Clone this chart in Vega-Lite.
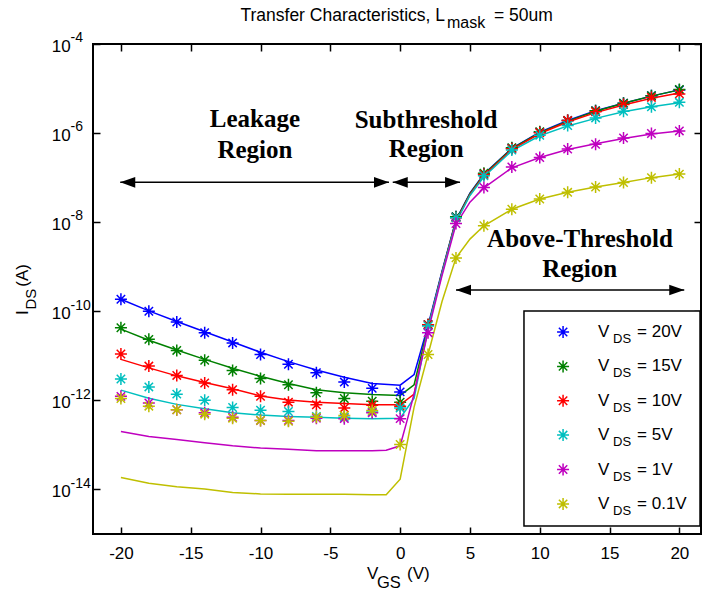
{
  "$schema": "https://vega.github.io/schema/vega-lite/v6.json",
  "width": 608,
  "height": 490,
  "autosize": {"type": "none"},
  "padding": {"left": 93, "top": 44, "right": 1, "bottom": 59},
  "config": {"view": {"stroke": "black", "strokeWidth": 2}, "font": "Liberation Sans"},
  "resolve": {"axis": {"x": "independent", "y": "independent"}},
  "datasets": {
    "meas": [
      {"vds":"20V","vgs":-20,"ids":1.86e-10},{"vds":"20V","vgs":-18,"ids":1.00e-10},{"vds":"20V","vgs":-16,"ids":5.75e-11},{"vds":"20V","vgs":-14,"ids":3.31e-11},{"vds":"20V","vgs":-12,"ids":1.95e-11},{"vds":"20V","vgs":-10,"ids":1.07e-11},{"vds":"20V","vgs":-8,"ids":6.46e-12},{"vds":"20V","vgs":-6,"ids":4.17e-12},{"vds":"20V","vgs":-4,"ids":2.57e-12},{"vds":"20V","vgs":-2,"ids":1.86e-12},{"vds":"20V","vgs":0,"ids":1.55e-12},{"vds":"20V","vgs":2,"ids":5.01e-11},{"vds":"20V","vgs":4,"ids":1.32e-8},{"vds":"20V","vgs":6,"ids":1.20e-7},{"vds":"20V","vgs":8,"ids":4.57e-7},{"vds":"20V","vgs":10,"ids":1.05e-6},{"vds":"20V","vgs":12,"ids":1.91e-6},{"vds":"20V","vgs":14,"ids":3.16e-6},{"vds":"20V","vgs":16,"ids":4.68e-6},{"vds":"20V","vgs":18,"ids":6.92e-6},{"vds":"20V","vgs":20,"ids":9.33e-6},
      {"vds":"15V","vgs":-20,"ids":4.27e-11},{"vds":"15V","vgs":-18,"ids":2.34e-11},{"vds":"15V","vgs":-16,"ids":1.32e-11},{"vds":"15V","vgs":-14,"ids":7.94e-12},{"vds":"15V","vgs":-12,"ids":4.68e-12},{"vds":"15V","vgs":-10,"ids":3.09e-12},{"vds":"15V","vgs":-8,"ids":2.24e-12},{"vds":"15V","vgs":-6,"ids":1.48e-12},{"vds":"15V","vgs":-4,"ids":1.10e-12},{"vds":"15V","vgs":-2,"ids":9.55e-13},{"vds":"15V","vgs":0,"ids":9.12e-13},{"vds":"15V","vgs":2,"ids":5.01e-11},{"vds":"15V","vgs":4,"ids":1.32e-8},{"vds":"15V","vgs":6,"ids":1.26e-7},{"vds":"15V","vgs":8,"ids":4.68e-7},{"vds":"15V","vgs":10,"ids":1.07e-6},{"vds":"15V","vgs":12,"ids":1.91e-6},{"vds":"15V","vgs":14,"ids":3.16e-6},{"vds":"15V","vgs":16,"ids":4.68e-6},{"vds":"15V","vgs":18,"ids":6.92e-6},{"vds":"15V","vgs":20,"ids":9.55e-6},
      {"vds":"10V","vgs":-20,"ids":1.10e-11},{"vds":"10V","vgs":-18,"ids":5.89e-12},{"vds":"10V","vgs":-16,"ids":3.63e-12},{"vds":"10V","vgs":-14,"ids":2.45e-12},{"vds":"10V","vgs":-12,"ids":1.74e-12},{"vds":"10V","vgs":-10,"ids":1.23e-12},{"vds":"10V","vgs":-8,"ids":9.12e-13},{"vds":"10V","vgs":-6,"ids":7.94e-13},{"vds":"10V","vgs":-4,"ids":6.76e-13},{"vds":"10V","vgs":-2,"ids":7.76e-13},{"vds":"10V","vgs":0,"ids":7.41e-13},{"vds":"10V","vgs":2,"ids":5.01e-11},{"vds":"10V","vgs":4,"ids":1.26e-8},{"vds":"10V","vgs":6,"ids":1.17e-7},{"vds":"10V","vgs":8,"ids":4.47e-7},{"vds":"10V","vgs":10,"ids":1.02e-6},{"vds":"10V","vgs":12,"ids":1.91e-6},{"vds":"10V","vgs":14,"ids":3.02e-6},{"vds":"10V","vgs":16,"ids":4.37e-6},{"vds":"10V","vgs":18,"ids":6.31e-6},{"vds":"10V","vgs":20,"ids":7.59e-6},
      {"vds":"5V","vgs":-20,"ids":3.02e-12},{"vds":"5V","vgs":-18,"ids":2.00e-12},{"vds":"5V","vgs":-16,"ids":1.38e-12},{"vds":"5V","vgs":-14,"ids":1.00e-12},{"vds":"5V","vgs":-12,"ids":6.92e-13},{"vds":"5V","vgs":-10,"ids":6.03e-13},{"vds":"5V","vgs":-8,"ids":5.62e-13},{"vds":"5V","vgs":-6,"ids":4.37e-13},{"vds":"5V","vgs":-4,"ids":4.17e-13},{"vds":"5V","vgs":-2,"ids":5.50e-13},{"vds":"5V","vgs":0,"ids":6.76e-13},{"vds":"5V","vgs":2,"ids":4.68e-11},{"vds":"5V","vgs":4,"ids":1.26e-8},{"vds":"5V","vgs":6,"ids":1.10e-7},{"vds":"5V","vgs":8,"ids":4.17e-7},{"vds":"5V","vgs":10,"ids":8.91e-7},{"vds":"5V","vgs":12,"ids":1.48e-6},{"vds":"5V","vgs":14,"ids":2.19e-6},{"vds":"5V","vgs":16,"ids":3.09e-6},{"vds":"5V","vgs":18,"ids":3.89e-6},{"vds":"5V","vgs":20,"ids":4.90e-6},
      {"vds":"1V","vgs":-20,"ids":1.23e-12},{"vds":"1V","vgs":-18,"ids":8.71e-13},{"vds":"1V","vgs":-16,"ids":6.17e-13},{"vds":"1V","vgs":-14,"ids":5.25e-13},{"vds":"1V","vgs":-12,"ids":4.17e-13},{"vds":"1V","vgs":-10,"ids":3.55e-13},{"vds":"1V","vgs":-8,"ids":3.55e-13},{"vds":"1V","vgs":-6,"ids":3.98e-13},{"vds":"1V","vgs":-4,"ids":3.89e-13},{"vds":"1V","vgs":-2,"ids":5.25e-13},{"vds":"1V","vgs":0,"ids":3.89e-13},{"vds":"1V","vgs":2,"ids":3.31e-11},{"vds":"1V","vgs":4,"ids":9.33e-9},{"vds":"1V","vgs":6,"ids":6.03e-8},{"vds":"1V","vgs":8,"ids":1.74e-7},{"vds":"1V","vgs":10,"ids":2.82e-7},{"vds":"1V","vgs":12,"ids":4.37e-7},{"vds":"1V","vgs":14,"ids":5.62e-7},{"vds":"1V","vgs":16,"ids":7.76e-7},{"vds":"1V","vgs":18,"ids":9.77e-7},{"vds":"1V","vgs":20,"ids":1.12e-6},
      {"vds":"0.1V","vgs":-20,"ids":1.10e-12},{"vds":"0.1V","vgs":-18,"ids":7.41e-13},{"vds":"0.1V","vgs":-16,"ids":6.17e-13},{"vds":"0.1V","vgs":-14,"ids":4.90e-13},{"vds":"0.1V","vgs":-12,"ids":3.98e-13},{"vds":"0.1V","vgs":-10,"ids":3.55e-13},{"vds":"0.1V","vgs":-8,"ids":3.39e-13},{"vds":"0.1V","vgs":-6,"ids":4.17e-13},{"vds":"0.1V","vgs":-4,"ids":4.57e-13},{"vds":"0.1V","vgs":-2,"ids":5.89e-13},{"vds":"0.1V","vgs":0,"ids":1.02e-13},{"vds":"0.1V","vgs":2,"ids":1.07e-11},{"vds":"0.1V","vgs":4,"ids":1.58e-9},{"vds":"0.1V","vgs":6,"ids":8.32e-9},{"vds":"0.1V","vgs":8,"ids":1.95e-8},{"vds":"0.1V","vgs":10,"ids":3.31e-8},{"vds":"0.1V","vgs":12,"ids":4.68e-8},{"vds":"0.1V","vgs":14,"ids":6.17e-8},{"vds":"0.1V","vgs":16,"ids":7.76e-8},{"vds":"0.1V","vgs":18,"ids":1.00e-7},{"vds":"0.1V","vgs":20,"ids":1.20e-7}
    ],
    "model": [
      {"vds":"20V","vgs":-20,"ids":1.86e-10},{"vds":"20V","vgs":-18,"ids":1.02e-10},{"vds":"20V","vgs":-16,"ids":5.89e-11},{"vds":"20V","vgs":-14,"ids":3.47e-11},{"vds":"20V","vgs":-12,"ids":2.04e-11},{"vds":"20V","vgs":-10,"ids":1.20e-11},{"vds":"20V","vgs":-8,"ids":7.41e-12},{"vds":"20V","vgs":-6,"ids":4.79e-12},{"vds":"20V","vgs":-4,"ids":3.31e-12},{"vds":"20V","vgs":-2,"ids":2.40e-12},{"vds":"20V","vgs":0,"ids":2.19e-12},{"vds":"20V","vgs":1,"ids":3.80e-12},{"vds":"20V","vgs":2,"ids":4.79e-11},{"vds":"20V","vgs":3,"ids":7.94e-10},{"vds":"20V","vgs":4,"ids":1.12e-8},{"vds":"20V","vgs":5,"ids":4.47e-8},{"vds":"20V","vgs":6,"ids":1.20e-7},{"vds":"20V","vgs":8,"ids":4.57e-7},{"vds":"20V","vgs":10,"ids":1.05e-6},{"vds":"20V","vgs":12,"ids":1.91e-6},{"vds":"20V","vgs":14,"ids":3.16e-6},{"vds":"20V","vgs":16,"ids":4.68e-6},{"vds":"20V","vgs":18,"ids":6.76e-6},{"vds":"20V","vgs":20,"ids":9.33e-6},
      {"vds":"15V","vgs":-20,"ids":3.98e-11},{"vds":"15V","vgs":-18,"ids":2.24e-11},{"vds":"15V","vgs":-16,"ids":1.35e-11},{"vds":"15V","vgs":-14,"ids":8.32e-12},{"vds":"15V","vgs":-12,"ids":5.25e-12},{"vds":"15V","vgs":-10,"ids":3.47e-12},{"vds":"15V","vgs":-8,"ids":2.40e-12},{"vds":"15V","vgs":-6,"ids":1.74e-12},{"vds":"15V","vgs":-4,"ids":1.48e-12},{"vds":"15V","vgs":-2,"ids":1.35e-12},{"vds":"15V","vgs":0,"ids":1.29e-12},{"vds":"15V","vgs":1,"ids":2.24e-12},{"vds":"15V","vgs":2,"ids":4.37e-11},{"vds":"15V","vgs":3,"ids":7.59e-10},{"vds":"15V","vgs":4,"ids":1.10e-8},{"vds":"15V","vgs":5,"ids":4.37e-8},{"vds":"15V","vgs":6,"ids":1.17e-7},{"vds":"15V","vgs":8,"ids":4.47e-7},{"vds":"15V","vgs":10,"ids":1.02e-6},{"vds":"15V","vgs":12,"ids":1.86e-6},{"vds":"15V","vgs":14,"ids":3.09e-6},{"vds":"15V","vgs":16,"ids":4.68e-6},{"vds":"15V","vgs":18,"ids":6.76e-6},{"vds":"15V","vgs":20,"ids":9.33e-6},
      {"vds":"10V","vgs":-20,"ids":8.32e-12},{"vds":"10V","vgs":-18,"ids":5.37e-12},{"vds":"10V","vgs":-16,"ids":3.55e-12},{"vds":"10V","vgs":-14,"ids":2.51e-12},{"vds":"10V","vgs":-12,"ids":1.82e-12},{"vds":"10V","vgs":-10,"ids":1.26e-12},{"vds":"10V","vgs":-8,"ids":1.02e-12},{"vds":"10V","vgs":-6,"ids":9.12e-13},{"vds":"10V","vgs":-4,"ids":8.51e-13},{"vds":"10V","vgs":-2,"ids":7.94e-13},{"vds":"10V","vgs":0,"ids":7.94e-13},{"vds":"10V","vgs":1,"ids":1.38e-12},{"vds":"10V","vgs":2,"ids":4.17e-11},{"vds":"10V","vgs":3,"ids":7.24e-10},{"vds":"10V","vgs":4,"ids":1.05e-8},{"vds":"10V","vgs":5,"ids":4.17e-8},{"vds":"10V","vgs":6,"ids":1.12e-7},{"vds":"10V","vgs":8,"ids":4.27e-7},{"vds":"10V","vgs":10,"ids":9.77e-7},{"vds":"10V","vgs":12,"ids":1.78e-6},{"vds":"10V","vgs":14,"ids":2.88e-6},{"vds":"10V","vgs":16,"ids":4.27e-6},{"vds":"10V","vgs":18,"ids":6.03e-6},{"vds":"10V","vgs":20,"ids":7.94e-6},
      {"vds":"5V","vgs":-20,"ids":1.70e-12},{"vds":"5V","vgs":-18,"ids":1.12e-12},{"vds":"5V","vgs":-16,"ids":8.13e-13},{"vds":"5V","vgs":-14,"ids":6.46e-13},{"vds":"5V","vgs":-12,"ids":5.25e-13},{"vds":"5V","vgs":-10,"ids":4.68e-13},{"vds":"5V","vgs":-8,"ids":4.37e-13},{"vds":"5V","vgs":-6,"ids":4.17e-13},{"vds":"5V","vgs":-4,"ids":3.98e-13},{"vds":"5V","vgs":-2,"ids":3.89e-13},{"vds":"5V","vgs":0,"ids":3.98e-13},{"vds":"5V","vgs":1,"ids":1.12e-12},{"vds":"5V","vgs":2,"ids":4.17e-11},{"vds":"5V","vgs":3,"ids":7.08e-10},{"vds":"5V","vgs":4,"ids":1.00e-8},{"vds":"5V","vgs":5,"ids":3.98e-8},{"vds":"5V","vgs":6,"ids":1.05e-7},{"vds":"5V","vgs":8,"ids":3.98e-7},{"vds":"5V","vgs":10,"ids":8.71e-7},{"vds":"5V","vgs":12,"ids":1.45e-6},{"vds":"5V","vgs":14,"ids":2.14e-6},{"vds":"5V","vgs":16,"ids":3.02e-6},{"vds":"5V","vgs":18,"ids":3.89e-6},{"vds":"5V","vgs":20,"ids":4.79e-6},
      {"vds":"1V","vgs":-20,"ids":2.00e-13},{"vds":"1V","vgs":-18,"ids":1.55e-13},{"vds":"1V","vgs":-16,"ids":1.32e-13},{"vds":"1V","vgs":-14,"ids":1.12e-13},{"vds":"1V","vgs":-12,"ids":9.55e-14},{"vds":"1V","vgs":-10,"ids":8.51e-14},{"vds":"1V","vgs":-8,"ids":7.94e-14},{"vds":"1V","vgs":-6,"ids":7.41e-14},{"vds":"1V","vgs":-4,"ids":7.41e-14},{"vds":"1V","vgs":-2,"ids":7.41e-14},{"vds":"1V","vgs":-1,"ids":7.59e-14},{"vds":"1V","vgs":0,"ids":9.55e-14},{"vds":"1V","vgs":0.5,"ids":3.55e-13},{"vds":"1V","vgs":1,"ids":1.41e-12},{"vds":"1V","vgs":2,"ids":3.55e-11},{"vds":"1V","vgs":3,"ids":6.31e-10},{"vds":"1V","vgs":4,"ids":8.91e-9},{"vds":"1V","vgs":5,"ids":2.82e-8},{"vds":"1V","vgs":6,"ids":5.89e-8},{"vds":"1V","vgs":8,"ids":1.66e-7},{"vds":"1V","vgs":10,"ids":2.82e-7},{"vds":"1V","vgs":12,"ids":4.27e-7},{"vds":"1V","vgs":14,"ids":5.75e-7},{"vds":"1V","vgs":16,"ids":7.59e-7},{"vds":"1V","vgs":18,"ids":9.55e-7},{"vds":"1V","vgs":20,"ids":1.12e-6},
      {"vds":"0.1V","vgs":-20,"ids":1.86e-14},{"vds":"0.1V","vgs":-18,"ids":1.38e-14},{"vds":"0.1V","vgs":-16,"ids":1.15e-14},{"vds":"0.1V","vgs":-14,"ids":1.02e-14},{"vds":"0.1V","vgs":-12,"ids":8.51e-15},{"vds":"0.1V","vgs":-10,"ids":7.94e-15},{"vds":"0.1V","vgs":-8,"ids":7.76e-15},{"vds":"0.1V","vgs":-6,"ids":7.76e-15},{"vds":"0.1V","vgs":-4,"ids":7.76e-15},{"vds":"0.1V","vgs":-2,"ids":7.59e-15},{"vds":"0.1V","vgs":-1,"ids":7.59e-15},{"vds":"0.1V","vgs":0,"ids":1.70e-14},{"vds":"0.1V","vgs":1,"ids":7.08e-13},{"vds":"0.1V","vgs":2,"ids":1.07e-11},{"vds":"0.1V","vgs":3,"ids":1.66e-10},{"vds":"0.1V","vgs":4,"ids":1.58e-9},{"vds":"0.1V","vgs":5,"ids":4.17e-9},{"vds":"0.1V","vgs":6,"ids":8.32e-9},{"vds":"0.1V","vgs":8,"ids":1.95e-8},{"vds":"0.1V","vgs":10,"ids":3.31e-8},{"vds":"0.1V","vgs":12,"ids":4.68e-8},{"vds":"0.1V","vgs":14,"ids":6.17e-8},{"vds":"0.1V","vgs":16,"ids":7.76e-8},{"vds":"0.1V","vgs":18,"ids":1.00e-7},{"vds":"0.1V","vgs":20,"ids":1.20e-7}
    ],
    "legend": [
      {"vds":"20V","ly":3.43e-11,"label":"= 20V"},
      {"vds":"15V","ly":5.79e-12,"label":"= 15V"},
      {"vds":"10V","ly":9.79e-13,"label":"= 10V"},
      {"vds":"5V","ly":1.66e-13,"label":"= 5V"},
      {"vds":"1V","ly":2.80e-14,"label":"= 1V"},
      {"vds":"0.1V","ly":4.73e-15,"label":"= 0.1V"}
    ],
    "legendbox": [{"x1":8.87,"x2":21.48,"y1":1.01e-10,"y2":1.51e-15}],
    "arrows": [
      {"x1":-20.05,"x2":-0.8,"y":7.85e-8},
      {"x1":-0.53,"x2":4.29,"y":7.85e-8},
      {"x1":4.0,"x2":20.35,"y":3.0e-10}
    ],
    "notes": [
      {"x":-10.4,"y":1.35e-6,"text":"Leakage"},
      {"x":-10.4,"y":2.72e-7,"text":"Region"},
      {"x":1.85,"y":1.32e-6,"text":"Subthreshold"},
      {"x":1.87,"y":2.95e-7,"text":"Region"},
      {"x":12.88,"y":2.81e-9,"text":"Above-Threshold"},
      {"x":12.86,"y":5.79e-10,"text":"Region"}
    ],
    "ticks": [
      {"v":1e-4,"e":"-4"},{"v":1e-6,"e":"-6"},{"v":1e-8,"e":"-8"},
      {"v":1e-10,"e":"-10"},{"v":1e-12,"e":"-12"},{"v":1e-14,"e":"-14"}
    ],
    "captions": [
      {"id":"title","text":"Transfer Characteristics, L"},
      {"id":"titleSub","text":"mask"},
      {"id":"titleEnd","text":"= 50um"},
      {"id":"xt","text":"V"},
      {"id":"xtSub","text":"GS"},
      {"id":"xtEnd","text":"(V)"},
      {"id":"yt","text":"I"},
      {"id":"ytSub","text":"DS"},
      {"id":"ytEnd","text":"(A)"}
    ]
  },
  "layer": [
    {
      "data": {"name": "model"},
      "mark": {"type": "line", "strokeWidth": 1.5},
      "encoding": {
        "x": {"field": "vgs", "type": "quantitative",
              "scale": {"domain": [-22, 21.55], "nice": false, "zero": false},
              "axis": {"orient": "bottom", "values": [-20,-15,-10,-5,0,5,10,15,20], "domain": false, "grid": false,
                       "offset": -7, "tickSize": 7, "tickColor": "black", "tickWidth": 1.5,
                       "labelFont": "Liberation Sans", "labelFontSize": 17, "labelColor": "black",
                       "labelPadding": 11, "labelExpr": "'' + datum.value", "title": null}},
        "y": {"field": "ids", "type": "quantitative",
              "scale": {"type": "log", "domain": [1e-15, 1e-4], "nice": false},
              "axis": {"orient": "left", "values": [1e-14,1e-12,1e-10,1e-8,1e-6,1e-4], "domain": false, "grid": false,
                       "offset": -7, "tickSize": 7, "tickColor": "black", "tickWidth": 1.5, "labels": false, "title": null}},
        "color": {"field": "vds", "type": "nominal", "legend": null,
                  "scale": {"domain": ["20V","15V","10V","5V","1V","0.1V"],
                            "range": ["#0000FF","#008000","#FF0000","#00BFBF","#BF00BF","#BFBF00"]}}
      }
    },
    {
      "data": {"name": "meas"},
      "mark": {"type": "point", "shape": "M-1,0L1,0M0,-1L0,1M-0.7,-0.7L0.7,0.7M-0.7,0.7L0.7,-0.7",
               "filled": false, "size": 144, "strokeWidth": 1.5, "opacity": 1},
      "encoding": {
        "x": {"field": "vgs", "type": "quantitative",
              "axis": {"orient": "top", "values": [-20,-15,-10,-5,0,5,10,15,20], "domain": false, "grid": false,
                       "offset": -7, "tickSize": 7, "tickColor": "black", "tickWidth": 1.5, "labels": false, "title": null}},
        "y": {"field": "ids", "type": "quantitative",
              "axis": {"orient": "right", "values": [1e-14,1e-12,1e-10,1e-8,1e-6,1e-4], "domain": false, "grid": false,
                       "offset": -7, "tickSize": 7, "tickColor": "black", "tickWidth": 1.5, "labels": false, "title": null}},
        "color": {"field": "vds", "type": "nominal", "legend": null}
      }
    },
    {
      "data": {"name": "legendbox"},
      "mark": {"type": "rect", "fill": "white", "stroke": "black", "strokeWidth": 1.5},
      "encoding": {
        "x": {"field": "x1", "type": "quantitative", "axis": null},
        "x2": {"field": "x2"},
        "y": {"field": "y1", "type": "quantitative", "axis": null},
        "y2": {"field": "y2"}
      }
    },
    {
      "data": {"name": "legend"},
      "mark": {"type": "point", "shape": "M-1,0L1,0M0,-1L0,1M-0.7,-0.7L0.7,0.7M-0.7,0.7L0.7,-0.7",
               "filled": false, "size": 144, "strokeWidth": 1.5, "opacity": 1},
      "encoding": {
        "x": {"datum": 11.67, "type": "quantitative", "axis": null},
        "y": {"field": "ly", "type": "quantitative", "axis": null},
        "color": {"field": "vds", "type": "nominal", "legend": null}
      }
    },
    {
      "data": {"name": "legend"},
      "mark": {"type": "text", "text": "V", "font": "Liberation Sans", "fontSize": 17, "align": "left", "baseline": "alphabetic", "dy": 5, "color": "black"},
      "encoding": {
        "x": {"datum": 14.17, "type": "quantitative", "axis": null},
        "y": {"field": "ly", "type": "quantitative", "axis": null}
      }
    },
    {
      "data": {"name": "legend"},
      "mark": {"type": "text", "text": "DS", "font": "Liberation Sans", "fontSize": 13, "align": "left", "baseline": "alphabetic", "dy": 11, "color": "black"},
      "encoding": {
        "x": {"datum": 15.25, "type": "quantitative", "axis": null},
        "y": {"field": "ly", "type": "quantitative", "axis": null}
      }
    },
    {
      "data": {"name": "legend"},
      "mark": {"type": "text", "font": "Liberation Sans", "fontSize": 17, "align": "left", "baseline": "alphabetic", "dy": 5, "color": "black"},
      "encoding": {
        "x": {"datum": 16.97, "type": "quantitative", "axis": null},
        "y": {"field": "ly", "type": "quantitative", "axis": null},
        "text": {"field": "label"}
      }
    },
    {
      "data": {"name": "notes"},
      "mark": {"type": "text", "font": "Liberation Serif", "fontWeight": "bold", "fontSize": 25, "align": "center", "baseline": "alphabetic", "color": "black"},
      "encoding": {
        "x": {"field": "x", "type": "quantitative", "axis": null},
        "y": {"field": "y", "type": "quantitative", "axis": null},
        "text": {"field": "text"}
      }
    },
    {
      "data": {"name": "arrows"},
      "mark": {"type": "rule", "color": "black", "strokeWidth": 1.5},
      "encoding": {
        "x": {"field": "x1", "type": "quantitative", "axis": null},
        "x2": {"field": "x2"},
        "y": {"field": "y", "type": "quantitative", "axis": null}
      }
    },
    {
      "data": {"name": "arrows"},
      "mark": {"type": "point", "shape": "M0,0L2,-0.71L2,0.71Z", "filled": true, "size": 225, "color": "black", "opacity": 1, "strokeWidth": 0},
      "encoding": {
        "x": {"field": "x1", "type": "quantitative", "axis": null},
        "y": {"field": "y", "type": "quantitative", "axis": null}
      }
    },
    {
      "data": {"name": "arrows"},
      "mark": {"type": "point", "shape": "M0,0L-2,-0.71L-2,0.71Z", "filled": true, "size": 225, "color": "black", "opacity": 1, "strokeWidth": 0},
      "encoding": {
        "x": {"field": "x2", "type": "quantitative", "axis": null},
        "y": {"field": "y", "type": "quantitative", "axis": null}
      }
    },
    {
      "data": {"name": "ticks"},
      "mark": {"type": "text", "text": "10", "font": "Liberation Sans", "fontSize": 17, "align": "left", "baseline": "alphabetic", "dx": -41.3, "dy": 8, "color": "black"},
      "encoding": {
        "x": {"datum": -22, "type": "quantitative", "axis": null},
        "y": {"field": "v", "type": "quantitative", "axis": null}
      }
    },
    {
      "data": {"name": "ticks"},
      "mark": {"type": "text", "font": "Liberation Sans", "fontSize": 14, "align": "left", "baseline": "alphabetic", "dx": -22.5, "dy": -1.7, "color": "black"},
      "encoding": {
        "x": {"datum": -22, "type": "quantitative", "axis": null},
        "y": {"field": "v", "type": "quantitative", "axis": null},
        "text": {"field": "e"}
      }
    },
    {
      "data": {"name": "captions"},
      "transform": [{"filter": "datum.id === 'title'"}],
      "mark": {"type": "text", "font": "Liberation Sans", "fontSize": 17.5, "align": "right", "baseline": "alphabetic", "dx": 352, "dy": -23.3, "color": "black"},
      "encoding": {
        "x": {"datum": -22, "type": "quantitative", "axis": null},
        "y": {"datum": 1e-4, "type": "quantitative", "axis": null},
        "text": {"field": "text"}
      }
    },
    {
      "data": {"name": "captions"},
      "transform": [{"filter": "datum.id === 'titleSub'"}],
      "mark": {"type": "text", "font": "Liberation Sans", "fontSize": 16, "align": "left", "baseline": "alphabetic", "dx": 354, "dy": -15.7, "color": "black"},
      "encoding": {
        "x": {"datum": -22, "type": "quantitative", "axis": null},
        "y": {"datum": 1e-4, "type": "quantitative", "axis": null},
        "text": {"field": "text"}
      }
    },
    {
      "data": {"name": "captions"},
      "transform": [{"filter": "datum.id === 'titleEnd'"}],
      "mark": {"type": "text", "font": "Liberation Sans", "fontSize": 17.5, "align": "left", "baseline": "alphabetic", "dx": 401, "dy": -23.3, "color": "black"},
      "encoding": {
        "x": {"datum": -22, "type": "quantitative", "axis": null},
        "y": {"datum": 1e-4, "type": "quantitative", "axis": null},
        "text": {"field": "text"}
      }
    },
    {
      "data": {"name": "captions"},
      "transform": [{"filter": "datum.id === 'xt'"}],
      "mark": {"type": "text", "font": "Liberation Sans", "fontSize": 17, "align": "left", "baseline": "alphabetic", "dx": 274, "dy": 45, "color": "black"},
      "encoding": {
        "x": {"datum": -22, "type": "quantitative", "axis": null},
        "y": {"datum": 1e-15, "type": "quantitative", "axis": null},
        "text": {"field": "text"}
      }
    },
    {
      "data": {"name": "captions"},
      "transform": [{"filter": "datum.id === 'xtSub'"}],
      "mark": {"type": "text", "font": "Liberation Sans", "fontSize": 16.5, "align": "left", "baseline": "alphabetic", "dx": 284, "dy": 54, "color": "black"},
      "encoding": {
        "x": {"datum": -22, "type": "quantitative", "axis": null},
        "y": {"datum": 1e-15, "type": "quantitative", "axis": null},
        "text": {"field": "text"}
      }
    },
    {
      "data": {"name": "captions"},
      "transform": [{"filter": "datum.id === 'xtEnd'"}],
      "mark": {"type": "text", "font": "Liberation Sans", "fontSize": 17, "align": "left", "baseline": "alphabetic", "dx": 314, "dy": 45, "color": "black"},
      "encoding": {
        "x": {"datum": -22, "type": "quantitative", "axis": null},
        "y": {"datum": 1e-15, "type": "quantitative", "axis": null},
        "text": {"field": "text"}
      }
    },
    {
      "data": {"name": "captions"},
      "transform": [{"filter": "datum.id === 'yt'"}],
      "mark": {"type": "text", "font": "Liberation Sans", "fontSize": 17, "align": "left", "baseline": "alphabetic", "angle": 270, "dx": -3.7, "dy": -64.7, "color": "black"},
      "encoding": {
        "x": {"datum": -22, "type": "quantitative", "axis": null},
        "y": {"datum": 1e-10, "type": "quantitative", "axis": null},
        "text": {"field": "text"}
      }
    },
    {
      "data": {"name": "captions"},
      "transform": [{"filter": "datum.id === 'ytSub'"}],
      "mark": {"type": "text", "font": "Liberation Sans", "fontSize": 15, "align": "left", "baseline": "alphabetic", "angle": 270, "dx": 1.8, "dy": -57, "color": "black"},
      "encoding": {
        "x": {"datum": -22, "type": "quantitative", "axis": null},
        "y": {"datum": 1e-10, "type": "quantitative", "axis": null},
        "text": {"field": "text"}
      }
    },
    {
      "data": {"name": "captions"},
      "transform": [{"filter": "datum.id === 'ytEnd'"}],
      "mark": {"type": "text", "font": "Liberation Sans", "fontSize": 17, "align": "left", "baseline": "alphabetic", "angle": 270, "dx": 24.6, "dy": -64.7, "color": "black"},
      "encoding": {
        "x": {"datum": -22, "type": "quantitative", "axis": null},
        "y": {"datum": 1e-10, "type": "quantitative", "axis": null},
        "text": {"field": "text"}
      }
    }
  ]
}
